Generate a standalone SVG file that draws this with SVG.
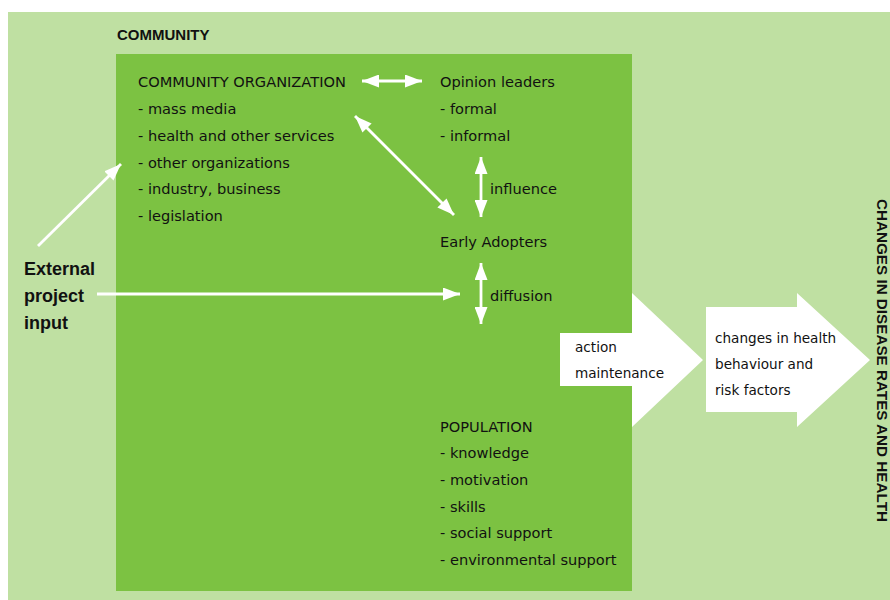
<svg xmlns="http://www.w3.org/2000/svg" width="890" height="600" viewBox="0 0 890 600">
  <defs>
    <style>
      .t { font-family: "DejaVu Sans", "Liberation Sans", sans-serif; font-size: 14.6px; fill: #111; }
      .ts { font-family: "DejaVu Sans", "Liberation Sans", sans-serif; font-size: 13.6px; fill: #111; }
      .b { font-family: "Liberation Sans", Arial, sans-serif; font-weight: bold; fill: #111; }
      .conn { stroke: #ffffff; stroke-width: 2.8; fill: none; }
      .big { fill: #ffffff; }
    </style>
    <marker id="ah" markerUnits="userSpaceOnUse" markerWidth="17" markerHeight="13" refX="17" refY="6.5" orient="auto-start-reverse" viewBox="0 0 17 13">
      <path d="M0,0 L17,6.5 L0,13 z" fill="#ffffff"/>
    </marker>
  </defs>

  <rect id="background" x="0" y="0" width="890" height="600" fill="#ffffff"/>

  <g id="community">
    <rect x="8" y="12" width="882" height="588" fill="#bfe0a2"/>
    <text class="b" x="117" y="40" font-size="15">COMMUNITY</text>
  </g>

  <g id="community-box">
    <rect x="116" y="54" width="516" height="537" fill="#7cc242"/>
  </g>

  <g id="big-arrows">
    <polygon id="arrow-action" class="big" points="560,333 632,333 632,293 703,360 632,427 632,386 560,386"/>
    <polygon id="arrow-changes" class="big" points="706,307 797,307 797,293 870,360 797,427 797,412 706,412"/>
  </g>

  <g id="community-organization">
    <text class="t" x="138" y="87">COMMUNITY ORGANIZATION</text>
    <text class="t" x="138" y="114">- mass media</text>
    <text class="t" x="138" y="140.8">- health and other services</text>
    <text class="t" x="138" y="167.6">- other organizations</text>
    <text class="t" x="138" y="194.4">- industry, business</text>
    <text class="t" x="138" y="221.2">- legislation</text>
  </g>

  <g id="opinion-leaders">
    <text class="t" x="440" y="87">Opinion leaders</text>
    <text class="t" x="440" y="114">- formal</text>
    <text class="t" x="440" y="140.7">- informal</text>
  </g>

  <g id="early-adopters">
    <text class="t" x="440" y="247">Early Adopters</text>
  </g>

  <g id="population">
    <text class="t" x="440" y="431.7">POPULATION</text>
    <text class="t" x="440" y="458.3">- knowledge</text>
    <text class="t" x="440" y="485">- motivation</text>
    <text class="t" x="440" y="511.7">- skills</text>
    <text class="t" x="440" y="538.3">- social support</text>
    <text class="t" x="440" y="565">- environmental support</text>
  </g>

  <g id="external-input">
    <text class="b" x="24" y="275" font-size="18">External</text>
    <text class="b" x="24" y="302" font-size="18">project</text>
    <text class="b" x="24" y="328.5" font-size="18">input</text>
  </g>

  <g id="action-maintenance">
    <text class="ts" x="575" y="352">action</text>
    <text class="ts" x="575" y="378">maintenance</text>
  </g>

  <g id="changes-behaviour">
    <text class="ts" x="715" y="343">changes in health</text>
    <text class="ts" x="715" y="369">behaviour and</text>
    <text class="ts" x="715" y="395">risk factors</text>
  </g>

  <g id="outcome">
    <text class="b" x="877" y="199" font-size="15.5" textLength="323" lengthAdjust="spacingAndGlyphs" transform="rotate(90 877 199)">CHANGES IN DISEASE RATES AND HEALTH</text>
  </g>

  <g id="connectors">
    <line class="conn" x1="362" y1="81" x2="422" y2="81" marker-start="url(#ah)" marker-end="url(#ah)"/>
    <line class="conn" x1="355" y1="116" x2="454" y2="215" marker-start="url(#ah)" marker-end="url(#ah)"/>
    <line class="conn" x1="481" y1="157" x2="481" y2="217" marker-start="url(#ah)" marker-end="url(#ah)"/>
    <line class="conn" x1="481" y1="263" x2="481" y2="324" marker-start="url(#ah)" marker-end="url(#ah)"/>
    <line class="conn" x1="97" y1="294" x2="460" y2="294" marker-end="url(#ah)"/>
    <line class="conn" x1="38" y1="246" x2="121" y2="164" marker-end="url(#ah)"/>
    <text class="t" x="490" y="194">influence</text>
    <text class="t" x="490" y="301">diffusion</text>
  </g>
</svg>
